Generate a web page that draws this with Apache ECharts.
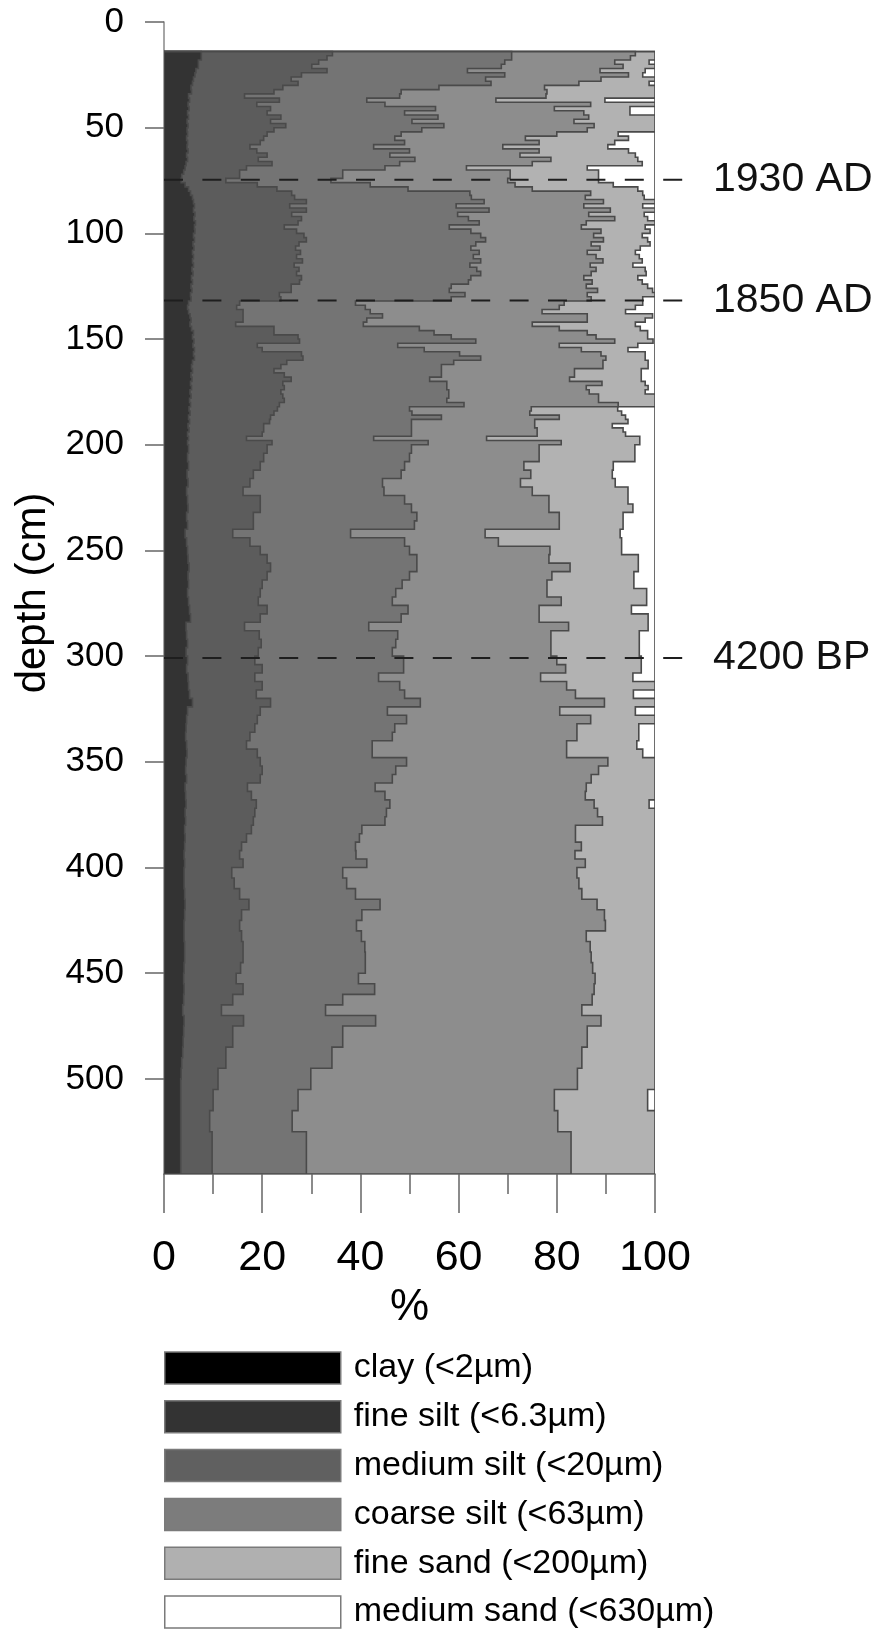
<!DOCTYPE html>
<html>
<head>
<meta charset="utf-8">
<script src="https://cdn.jsdelivr.net/npm/echarts@6/dist/echarts.min.js"></script>
<style>
html,body{margin:0;padding:0;background:#fff;}
#chart{width:880px;height:1633px;}
</style>
</head>
<body>
<div id="chart"></div>
<script>
// ---- DATA ----
// Sample top depths (cm); each sample extends to the next top (last one to endDepth)
const depthTop = [14,16,18,20,22,24,26,28,30,32,34,36,38,40,42,44,46,48,50,52,54,56,58,60,62,64,66,68,70,72,74,
76,78,80,82,84,86,88,90,92,94,96,98,100,102,104,106,108,110,112,114,116,118,120,122,124,126,128,130,
132,134,136,138,140,142,144,146,148,150,152,154,156,158,160,162,164,166,168,170,172,174,176,178,180,182,184,186,188,190,192,194,196,198,
200,204,208,212,216,220,224,228,232,236,240,244,248,252,256,260,264,268,272,276,280,284,288,292,296,300,304,308,312,316,320,324,328,332,336,340,344,348,352,356,360,364,368,372,376,380,384,388,392,396,
400,405,410,415,420,425,430,435,440,445,450,455,460,465,470,475,480,485,490,495,500,505,510,515,520,525,530,535,540];
const endDepth = 545;

// Cumulative upper boundary (%) of each grain-size class at each sample
const clayCum = [7.6,7.6,7.0,7.0,6.5,6.3,6.0,5.8,5.5,5.6,5.0,5.2,4.9,5.1,4.8,5.0,4.7,4.9,4.7,4.8,4.6,4.8,4.7,4.9,4.6,4.8,4.5,4.3,4.0,3.6,3.5,
4.3,5.0,5.4,5.8,6.0,6.2,6.0,6.3,6.1,6.4,6.2,6.3,6.0,6.2,5.9,6.1,5.8,6.0,5.8,6.0,5.7,5.9,5.6,5.8,5.5,5.7,5.4,5.5,
5.0,4.8,5.0,5.3,5.5,5.3,5.6,6.0,5.8,6.1,5.9,6.2,6.0,6.2,5.8,5.6,5.8,5.5,5.7,5.4,5.6,5.3,5.5,5.2,5.4,5.1,5.3,5.0,5.2,4.9,5.1,4.8,5.0,4.8,
5.0,4.8,5.0,4.7,4.9,4.6,4.8,4.9,4.6,4.8,4.3,4.6,4.8,4.9,5.1,4.9,5.0,4.8,5.0,5.2,5.4,4.5,4.6,4.8,4.5,4.8,4.6,4.9,5.0,5.2,5.8,4.8,4.6,4.5,4.4,4.6,4.7,4.5,4.4,4.6,4.3,4.4,4.5,4.3,4.4,4.2,4.3,4.2,4.1,4.2,
4.1,4.1,4.2,4.3,4.2,4.1,4.1,4.2,4.2,4.1,4.0,4.1,4.0,3.8,4.1,4.0,3.9,3.8,3.6,3.5,3.4,3.4,3.4,3.4,3.4,3.4,3.4,3.4,3.4];

const fineSiltCum = [34.3,33.2,31.5,30.1,33.2,28.0,25.9,27.3,24.2,22.4,16.4,23.5,18.9,21.7,21.0,23.8,21.7,24.8,22.4,21.0,20.3,19.6,17.5,18.9,21.0,19.2,22.0,16.8,15.4,15.4,12.6,
19.0,23.0,26.0,26.6,29.0,25.6,29.0,26.0,28.0,27.3,24.5,27.0,28.5,29.0,27.5,26.8,27.8,27.0,28.2,26.5,27.5,27.0,28.0,27.6,25.9,25.9,23.5,23.8,
15.4,14.8,16.1,16.1,16.1,14.6,22.4,22.4,27.3,27.6,19.0,20.0,28.0,28.3,25.0,23.8,22.4,24.5,25.9,24.2,24.5,23.8,24.2,24.5,23.5,23.1,22.4,21.7,21.5,20.3,20.3,20.0,16.8,22.0,
21.0,20.3,19.6,18.2,17.5,16.1,19.6,19.6,18.2,18.2,14.0,17.5,19.6,21.0,21.7,21.0,20.0,19.6,19.2,21.0,19.6,16.4,19.4,19.8,19.2,18.5,20.0,18.5,20.0,18.8,21.7,19.6,19.0,18.5,17.5,16.8,19.0,19.6,20.0,19.6,17.0,17.8,18.8,18.5,18.2,17.8,16.8,15.8,15.4,16.1,
13.8,14.3,15.4,17.3,15.8,15.4,15.8,16.1,16.1,15.6,14.7,16.1,14.0,11.7,16.2,14.0,14.0,12.6,12.6,11.0,11.0,10.0,10.0,9.3,9.3,9.8,9.8,9.8,9.8];

const mediumSiltCum = [70.8,70.8,69.4,68.7,61.8,69.4,65.5,66.6,56.0,48.3,48.0,41.3,45.0,55.3,49.0,55.8,50.5,57.0,52.5,48.3,47.0,49.0,42.7,50.0,46.0,51.1,48.0,45.0,36.4,36.4,34.0,
42.0,49.7,62.3,62.6,65.2,59.5,66.2,59.8,62.0,64.2,58.1,62.5,64.5,65.5,63.5,62.5,64.2,63.0,64.5,62.3,63.7,64.5,62.5,62.0,58.5,58.1,61.3,58.5,
39.0,41.0,42.0,44.5,41.3,40.6,52.0,55.0,58.5,63.5,47.6,53.0,60.2,64.5,59.0,56.5,56.5,56.5,54.1,57.6,57.6,58.0,58.0,57.6,61.1,50.0,50.5,56.5,50.4,50.4,50.4,50.4,42.7,53.8,
50.4,50.0,49.0,48.3,44.5,44.8,49.0,50.4,51.5,51.0,38.0,49.0,50.0,51.5,51.5,50.0,48.5,47.2,46.5,49.7,48.3,41.7,47.6,47.2,46.5,48.8,48.8,43.7,48.0,49.0,52.2,45.5,49.4,47.0,46.5,42.4,42.4,49.4,47.2,46.5,43.0,45.0,46.0,45.3,45.0,40.3,39.8,39.0,39.1,41.3,
36.4,37.2,39.0,44.0,40.3,39.2,40.2,40.9,41.0,41.0,39.6,42.9,36.4,32.9,43.1,36.4,36.4,34.2,34.2,29.9,29.9,27.3,27.3,26.1,26.1,29.0,29.0,29.0,29.0];

const coarseSiltCum = [96.0,95.0,91.8,93.5,88.8,94.6,89.0,84.5,77.5,78.0,77.8,67.6,86.9,79.5,85.5,86.5,83.5,87.6,86.2,80.0,73.6,76.4,69.0,76.4,72.5,78.8,75.0,61.6,70.5,70.5,70.0,
71.5,75.0,86.9,85.8,89.5,85.5,90.9,86.5,91.8,86.0,85.0,89.0,87.5,89.5,87.0,88.8,86.2,88.0,89.4,86.8,88.0,87.0,85.5,87.2,86.0,88.3,86.2,87.0,
81.5,80.5,77.0,86.2,86.2,75.0,80.5,86.2,88.0,91.8,80.5,85.0,89.0,90.0,89.4,89.4,83.6,83.6,82.6,89.2,86.0,86.6,88.5,88.5,92.5,74.8,74.5,80.5,75.5,75.5,76.0,76.0,65.7,80.9,
76.4,76.4,73.3,74.7,72.6,75.0,78.4,78.4,80.5,80.5,65.4,68.1,78.6,78.4,82.7,79.0,78.0,78.0,80.9,76.4,76.4,82.4,78.8,78.8,78.8,80.0,81.8,76.7,82.0,83.8,89.7,80.6,86.9,84.1,84.1,82.0,82.0,90.4,88.5,87.0,86.0,85.8,87.6,88.3,89.3,83.8,83.8,85.0,83.7,85.8,
84.1,84.5,85.1,88.2,89.7,89.9,86.0,86.8,87.0,87.3,87.8,87.6,87.2,85.1,89.0,86.2,86.2,85.1,85.1,84.2,84.2,79.5,79.5,80.2,80.2,82.9,82.9,82.9,82.9];

const fineSandCum = [100,100,98.8,100,98.0,97.5,100,98.8,100,100,100,89.8,100,94.9,94.9,100,100,100,100,92.5,94.6,91.8,90.4,94.6,96.0,96.5,97.4,86.2,88.5,88.5,88.5,
91.5,96.5,97.5,97.8,100,97.5,100,97.8,98.5,100,98.0,99.0,97.4,98.5,99.0,97.0,96.0,96.8,97.4,95.5,98.0,98.2,96.5,97.4,98.5,99.5,100,97.5,
97.5,96.0,94.0,99.5,98.0,96.0,97.0,98.5,98.5,99.6,96.5,94.5,98.0,98.0,98.6,98.6,97.2,97.2,97.2,98.0,98.6,98.0,100,100,100,92.4,93.2,94.0,94.5,91.3,93.5,94.0,96.9,96.9,
95.9,95.9,91.5,91.3,91.9,94.5,94.5,95.5,93.5,93.5,92.9,93.2,93.2,96.6,96.6,95.7,95.7,98.3,98.3,95.2,98.6,98.6,96.8,96.8,96.8,97.2,97.2,95.5,100,95.6,100,96.0,100,96.7,96.7,96.3,97.5,100,100,100,100,100,98.8,100,100,100,100,100,100,100,
100,100,100,100,100,100,100,100,100,100,100,100,100,100,100,100,100,100,100,100,100,98.5,98.5,100,100,100,100,100,100];

const totalPercent = 100; // medium sand closes every sample at 100 %

const classNames = ['clay (<2µm)','fine silt (<6.3µm)','medium silt (<20µm)','coarse silt (<63µm)','fine sand (<200µm)','medium sand (<630µm)'];
const yTicks = [0,50,100,150,200,250,300,350,400,450,500];
const markerDepth = [74.6,131.7,300.9];
const markerLabel = ['1930 AD','1850 AD','4200 BP'];

// ---- STYLE ----
const FONT = 'Liberation Sans';
const chartFill = ['#333333','#5c5c5c','#747474','#8d8d8d','#b2b2b2','#ffffff'];
const legendFill = ['#000000','#333333','#606060','#7c7c7c','#b0b0b0','#ffffff'];
const outline = '#4a4a4a';

function bandSeries(idx, values) {
  return {
    type: 'custom',
    name: classNames[idx],
    coordinateSystem: 'cartesian2d',
    z: 2 + (5 - idx),
    silent: true,
    animation: false,
    clip: true,
    itemStyle: {color: chartFill[idx]},
    encode: {x: 0, y: 1},
    data: depthTop.map(function (d, i) { return [values[i], d]; }),
    renderItem: function (params, api) {
      if (params.dataIndex !== 0) return null;
      const pts = [api.coord([0, depthTop[0]])];
      for (let i = 0; i < depthTop.length; i++) {
        const bot = i + 1 < depthTop.length ? depthTop[i + 1] : endDepth;
        pts.push(api.coord([values[i], depthTop[i]]));
        pts.push(api.coord([values[i], bot]));
      }
      pts.push(api.coord([0, endDepth]));
      return {
        type: 'polygon',
        shape: {points: pts},
        style: {fill: chartFill[idx], stroke: outline, lineWidth: 1.6, lineJoin: 'miter'}
      };
    }
  };
}

const mediumSandCum = depthTop.map(function () { return totalPercent; });

const series = [
  bandSeries(5, mediumSandCum),
  bandSeries(4, fineSandCum),
  bandSeries(3, coarseSiltCum),
  bandSeries(2, mediumSiltCum),
  bandSeries(1, fineSiltCum),
  bandSeries(0, clayCum),
  {
    type: 'custom',
    coordinateSystem: 'cartesian2d',
    z: 20,
    clip: false,
    silent: true,
    animation: false,
    encode: {x: 0, y: 1},
    data: markerDepth.map(function (d) { return [0, d]; }),
    renderItem: function (params, api) {
      const p0 = api.coord([0, api.value(1)]);
      const p1 = api.coord([totalPercent, api.value(1)]);
      return {
        type: 'group',
        children: [
          {type: 'line', shape: {x1: p0[0], y1: p0[1], x2: p1[0] + 28, y2: p0[1]},
           style: {stroke: '#1e1e1e', lineWidth: 2, lineDash: [19, 19.4]}},
          {type: 'text', x: p1[0] + 58, y: p0[1],
           style: {text: markerLabel[params.dataIndex], fontSize: 41, fontFamily: FONT, fill: '#111',
                   align: 'left', verticalAlign: 'middle'}}
        ]
      };
    }
  }
];

const axisColor = '#666666';
const option = {
  backgroundColor: '#ffffff',
  animation: false,
  textStyle: {fontFamily: FONT},
  grid: {left: 164, top: 22, width: 491, height: 1152, containLabel: false},
  xAxis: {
    type: 'value', min: 0, max: 100, interval: 20, position: 'bottom',
    axisLine: {show: true, onZero: false, lineStyle: {color: axisColor, width: 1.5}},
    axisTick: {show: true, length: 39, lineStyle: {color: axisColor, width: 1.5}},
    minorTick: {show: true, splitNumber: 2, length: 20, lineStyle: {color: axisColor, width: 1.5}},
    splitLine: {show: false}, minorSplitLine: {show: false},
    axisLabel: {margin: 63, fontSize: 43, fontFamily: FONT, color: '#000'},
    name: '%', nameLocation: 'middle', nameGap: 112,
    nameTextStyle: {fontSize: 44, fontFamily: FONT, color: '#000'}
  },
  yAxis: {
    type: 'value', inverse: true, min: 0, max: endDepth, interval: 50,
    axisLine: {show: true, onZero: false, lineStyle: {color: '#888', width: 1.5}},
    axisTick: {show: true, length: 19, customValues: yTicks, lineStyle: {color: axisColor, width: 1.5}},
    axisLabel: {customValues: yTicks, margin: 40, fontSize: 35, fontFamily: FONT, color: '#000'},
    splitLine: {show: false},
    name: 'depth (cm)', nameLocation: 'middle', nameGap: 107,
    nameTextStyle: {fontSize: 42, fontFamily: FONT, color: '#000', padding: [0, 0, 0, 10]}
  },
  legend: {
    orient: 'vertical', left: 164, top: 1350, padding: 0,
    itemWidth: 176, itemHeight: 32, itemGap: 12.8,
    icon: 'rect', selectedMode: false,
    textStyle: {fontSize: 34, fontFamily: FONT, color: '#000', lineHeight: 28, padding: [0, 0, 8, 8]},
    data: classNames.map(function (n, i) {
      return {name: n, icon: 'rect', itemStyle: {color: legendFill[i], borderColor: '#7a7a7a', borderWidth: 1.5}};
    })
  },
  series: series
};

const chart = echarts.init(document.getElementById('chart'), null, {renderer: 'canvas'});
chart.setOption(option);
</script>
</body>
</html>
